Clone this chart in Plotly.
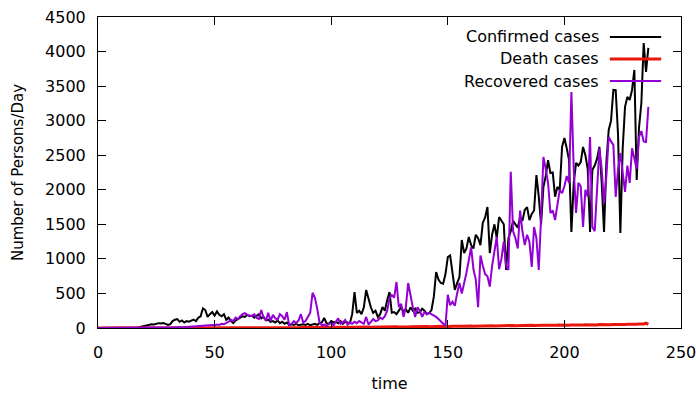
import plotly.graph_objects as go

confirmed = [
    0, 0, 0, 0, 1, 0, 2, 1, 3, 2,
    4, 3, 5, 4, 6, 5, 8, 7, 15, 22,
    30, 38, 45, 55, 50, 60, 70, 65, 72, 60,
    45, 55, 100, 120, 130, 90, 110, 80, 100, 90,
    110, 120, 100, 150, 170, 285, 260, 160, 200, 230,
    180, 240, 190, 170, 200, 120, 150, 100, 70, 110,
    130, 150, 170, 160, 190, 170, 180, 150, 170, 200,
    140, 160, 110, 120, 90, 100, 80, 110, 70, 90,
    60, 80, 40, 55, 45, 60, 40, 50, 55, 45,
    60, 40, 50, 60, 45, 70, 80, 145, 70, 60,
    100, 80, 90, 70, 100, 60, 90, 80, 70, 200,
    520, 217, 250, 200, 300, 550, 405, 300, 220, 250,
    160, 200, 304, 250, 400, 520, 220, 230, 200, 250,
    300, 240, 270, 220, 300, 250, 280, 220, 230, 280,
    250, 200, 217, 260, 450, 810, 700, 651, 640, 780,
    1027, 1050, 800, 550, 650, 738, 1273, 1085, 1150, 1317,
    1200, 1150, 1350, 1300, 1200, 1520, 1600, 1751, 1085, 1350,
    1500, 1300, 1606, 1550, 1500, 840, 1300, 1400, 1550, 1500,
    1450, 1600, 1550, 1708, 1750, 1560, 1650, 1700, 2214, 1900,
    1500, 2040, 2200, 2430, 2243, 2250, 1900, 2040, 2000, 2620,
    2750, 2600, 2430, 1390, 2100, 2390, 2350, 2400, 2620, 2500,
    2300, 1390, 2290, 2350, 2450, 2620, 2100, 1390, 2400, 2865,
    3000, 3444, 3440, 2800, 1375, 2600, 3200, 3343, 3300, 3444,
    3734, 2142, 2900, 3256, 4124, 3705, 4052,
]

death = [
    0, 0, 0, 0, 0, 0, 0, 0, 0, 0,
    0, 0, 0, 0, 0, 1, 0, 1, 1, 0,
    1, 2, 1, 2, 1, 3, 2, 1, 3, 2,
    3, 2, 4, 3, 2, 4, 3, 5, 3, 4,
    5, 4, 3, 5, 6, 4, 5, 3, 6, 5,
    4, 6, 5, 7, 4, 6, 5, 7, 6, 8,
    5, 7, 6, 8, 5, 7, 9, 6, 8, 7,
    5, 8, 6, 9, 7, 8, 6, 10, 7, 8,
    9, 6, 8, 7, 10, 8, 9, 7, 11, 8,
    9, 10, 8, 12, 9, 10, 8, 11, 9, 12,
    10, 9, 11, 10, 12, 9, 13, 11, 10, 12,
    11, 13, 10, 12, 14, 11, 13, 12, 15, 12,
    14, 13, 15, 14, 16, 13, 17, 15, 18, 16,
    14, 17, 19, 16, 18, 20, 17, 19, 21, 18,
    20, 22, 19, 21, 23, 20, 25, 22, 24, 21,
    26, 23, 25, 28, 24, 27, 25, 29, 26, 28,
    30, 27, 29, 31, 28, 30, 32, 29, 31, 33,
    30, 32, 34, 31, 33, 35, 32, 34, 36, 33,
    35, 37, 34, 36, 38, 35, 39, 37, 40, 36,
    38, 41, 39, 37, 42, 40, 38, 43, 41, 39,
    44, 42, 40, 45, 43, 41, 46, 44, 42, 47,
    45, 43, 48, 46, 44, 49, 47, 45, 50, 48,
    46, 51, 49, 52, 50, 53, 51, 55, 52, 54,
    56, 53, 57, 55, 58, 70, 52,
]

recovered = [
    0, 0, 0, 0, 0, 0, 0, 0, 0, 0,
    0, 0, 1, 0, 1, 2, 1, 2, 3, 2,
    3, 4, 3, 5, 4, 6, 5, 7, 6, 8,
    7, 9, 8, 10, 12, 10, 14, 12, 15, 18,
    20, 25, 22, 30, 28, 35, 30, 40, 35, 45,
    40, 50, 45, 60, 55, 70, 90, 120, 100, 150,
    130, 170, 200, 215, 190, 180, 170, 200, 150, 130,
    260, 150, 110, 220, 100, 190, 140, 120, 200, 170,
    120, 230, 40, 60, 100, 70, 110, 200, 80, 100,
    160, 220, 510, 440, 280, 80, 40, 50, 30, 60,
    70, 40, 90, 140, 60, 80, 116, 50, 80, 60,
    90, 70, 100, 80, 60, 160, 50, 90, 130, 100,
    110, 150, 130, 170, 250, 434, 477, 440, 666, 300,
    350, 160, 300, 651, 450, 300, 160, 300, 250, 160,
    230, 200, 217, 200, 180, 160, 130, 100, 60, 30,
    480, 330, 380, 320, 500, 650, 500, 640, 800, 980,
    1170, 850, 700, 300, 1050, 900, 780, 750, 600, 900,
    1100, 1320, 850, 1000, 1250, 900, 840, 2260, 1400, 1300,
    1150, 1700, 1400, 1200, 1350, 1250, 883, 1462, 1300, 840,
    1600, 2475, 2300, 2100, 1664, 1700, 1563, 1800, 2000, 1950,
    2050, 2200, 2100, 3415, 2300, 1664, 2100, 2050, 1462, 2000,
    1900, 2764, 1462, 1400, 2100, 2600, 2300, 1800, 2200, 2764,
    2700, 2650, 1896, 2300, 2532, 2200, 1968, 2350, 2100, 2600,
    2450, 2300, 2764, 2850, 2700, 2692, 3200,
]

days = list(range(len(confirmed)))

series_names = ["Confirmed cases", "Death cases", "Recovered cases"]
series_colors = ["#000000", "#e8170c", "#9400d3"]
series_widths = [2, 3, 2]
series_values = [confirmed, death, recovered]

FONT = "DejaVu Sans"

fig = go.Figure()
for name, vals, col, w in zip(series_names, series_values, series_colors, series_widths):
    fig.add_trace(go.Scatter(x=days, y=vals, mode="lines", name=name,
                             line=dict(color=col, width=w), showlegend=False))

# gnuplot-style legend: right-aligned text followed by a line sample
legend_y = [0.936, 0.865, 0.794]
for name, col, w, yy in zip(series_names, series_colors, series_widths, legend_y):
    fig.add_annotation(x=0.862, y=yy, xref="paper", yref="paper", text=name,
                       showarrow=False, xanchor="right", yanchor="middle",
                       font=dict(family=FONT, size=16, color="#000000"))
    fig.add_shape(type="line", xref="paper", yref="paper", x0=0.878, x1=0.966,
                  y0=yy, y1=yy, line=dict(color=col, width=w))

axis_common = dict(showline=True, linecolor="#000000", linewidth=1, mirror="allticks",
                   ticks="inside", ticklen=8, tickcolor="#000000", showgrid=False,
                   zeroline=False, automargin=False, ticklabeloverflow="allow",
                   tickfont=dict(family=FONT, size=16, color="#000000"))

fig.update_layout(
    width=696, height=395,
    margin=dict(l=98, r=15, t=17, b=67),
    plot_bgcolor="#ffffff", paper_bgcolor="#ffffff",
    xaxis=dict(range=[0, 250], tickvals=[0, 50, 100, 150, 200, 250], ticklabelstandoff=10,
               title=dict(text="time", font=dict(family=FONT, size=16, color="#000000"), standoff=16),
               **axis_common),
    yaxis=dict(range=[0, 4500], tickvals=list(range(0, 4501, 500)), ticklabelstandoff=8,
               title=dict(text="Number of Persons/Day", font=dict(family=FONT, size=15, color="#000000"), standoff=17),
               **axis_common),
)

fig.write_html("out.html")
